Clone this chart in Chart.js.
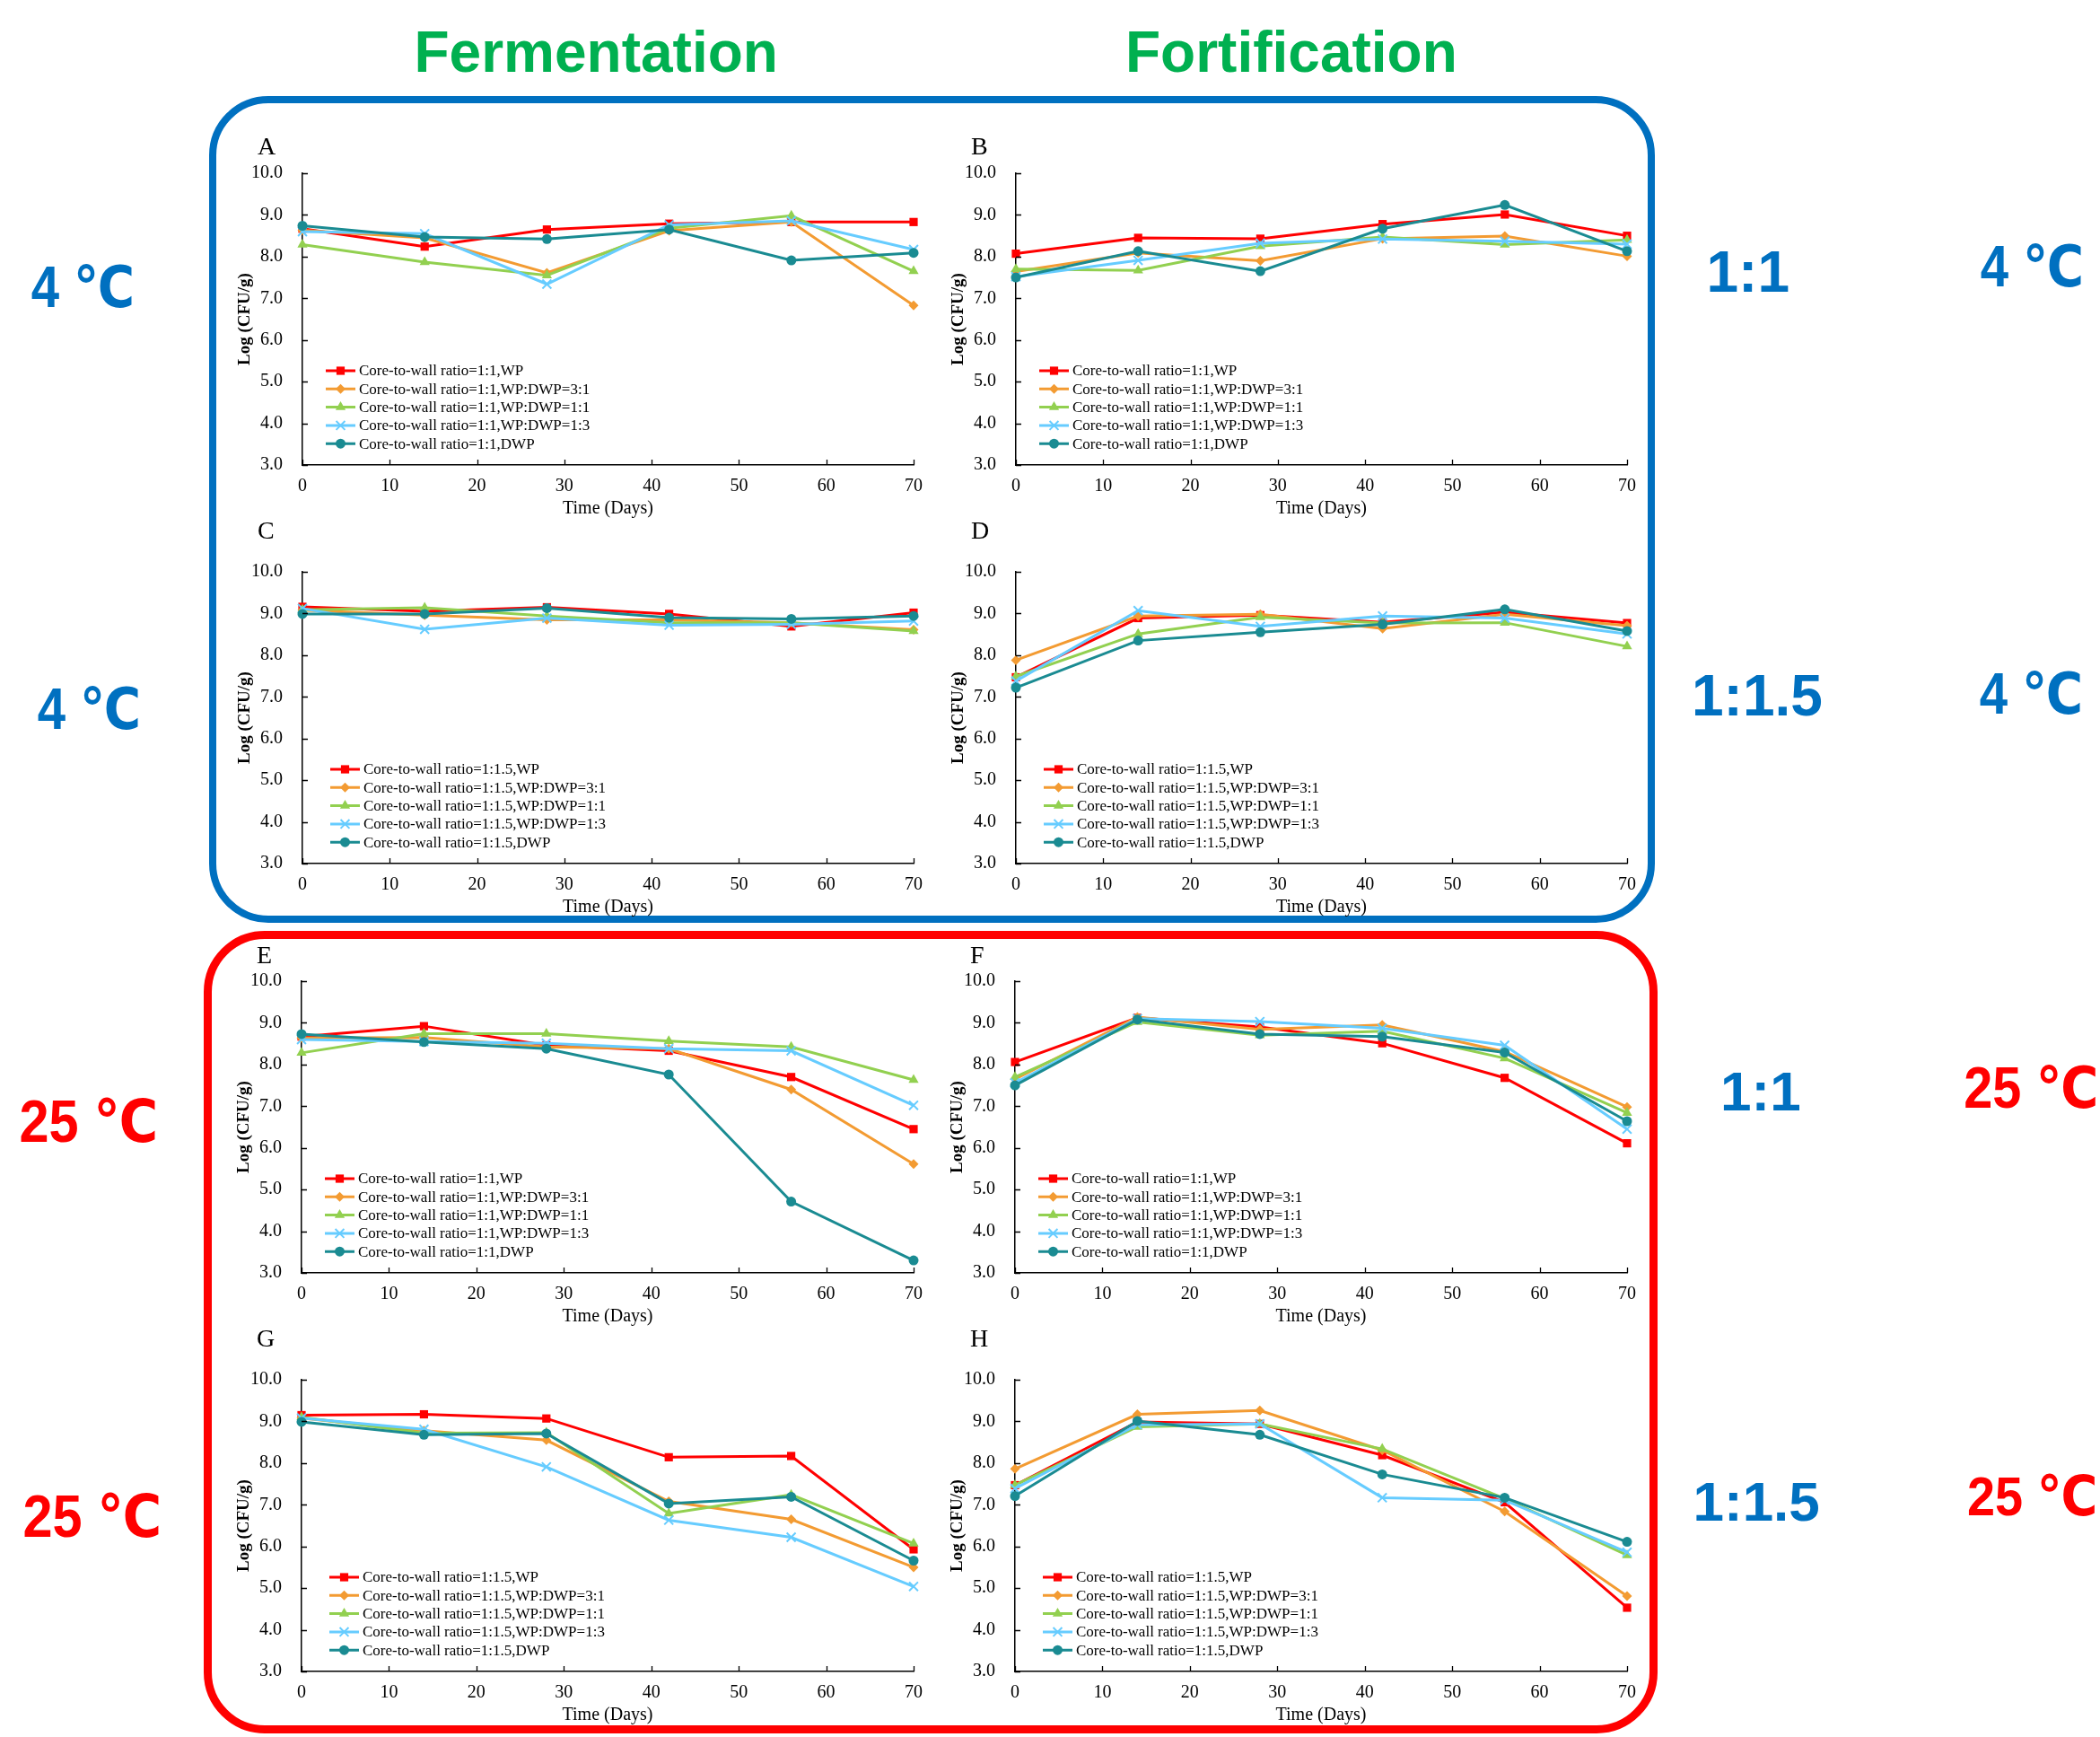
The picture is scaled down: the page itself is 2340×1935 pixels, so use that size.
<!DOCTYPE html>
<html>
<head>
<meta charset="utf-8">
<script src="https://cdn.jsdelivr.net/npm/chart.js@4.4.0/dist/chart.umd.min.js"></script>
<style>
html, body { margin: 0; padding: 0; background: #fff; }
body { width: 2340px; height: 1935px; position: relative; overflow: hidden; }
.frame { position: absolute; box-sizing: border-box; }
.note { position: absolute; white-space: nowrap; line-height: 1; font-weight: bold; transform-origin: 50% 100%; }
.letter { position: absolute; font-family: "Liberation Serif", "Times New Roman", serif; font-size: 28px; line-height: 1; color: #000; }
canvas { position: absolute; }
</style>
</head>
<body>
<div class="frame" style="left:233px;top:107px;width:1611px;height:921px;border:8px solid #0070C0;border-radius:66px;"></div>
<div class="frame" style="left:227px;top:1037px;width:1620px;height:894px;border:9px solid #FF0000;border-radius:68px;"></div>

<script>
// storage days
var days = [0, 14, 28, 42, 56, 70];
var groups = ['WP', 'WP:DWP=3:1', 'WP:DWP=1:1', 'WP:DWP=1:3', 'DWP'];
var colors = ['#FF0000', '#F39B32', '#92D050', '#66CCFF', '#1A8B92'];
var markers = ['rect', 'rectRot', 'triangle', 'crossRot', 'circle'];

// one row per group, values are Log (CFU/g)
var panelA = [
    [8.67, 8.24, 8.65, 8.79, 8.83, 8.83],
    [8.63, 8.45, 7.61, 8.62, 8.83, 6.83],
    [8.29, 7.87, 7.55, 8.68, 8.98, 7.65],
    [8.60, 8.55, 7.34, 8.76, 8.86, 8.17],
    [8.74, 8.47, 8.42, 8.65, 7.91, 8.09]
];
var panelB = [
    [8.07, 8.45, 8.43, 8.78, 9.01, 8.50],
    [7.64, 8.09, 7.90, 8.43, 8.49, 8.01],
    [7.70, 7.67, 8.25, 8.47, 8.29, 8.40],
    [7.52, 7.91, 8.32, 8.42, 8.37, 8.30],
    [7.50, 8.13, 7.65, 8.67, 9.24, 8.13]
];
var panelC = [
    [9.16, 9.05, 9.15, 8.99, 8.69, 9.02],
    [9.08, 8.96, 8.85, 8.85, 8.78, 8.61],
    [9.09, 9.14, 8.94, 8.78, 8.78, 8.58],
    [9.12, 8.62, 8.89, 8.72, 8.74, 8.82],
    [8.99, 8.99, 9.13, 8.90, 8.87, 8.94]
];
var panelD = [
    [7.47, 8.89, 8.96, 8.79, 9.03, 8.77],
    [7.88, 8.94, 8.98, 8.64, 8.98, 8.71],
    [7.49, 8.51, 8.91, 8.77, 8.78, 8.21],
    [7.38, 9.07, 8.69, 8.94, 8.89, 8.51],
    [7.22, 8.35, 8.55, 8.74, 9.10, 8.58]
];
var panelE = [
    [8.67, 8.92, 8.46, 8.33, 7.70, 6.45],
    [8.64, 8.65, 8.42, 8.38, 7.40, 5.61],
    [8.28, 8.74, 8.74, 8.56, 8.42, 7.63],
    [8.60, 8.55, 8.51, 8.38, 8.33, 7.02],
    [8.73, 8.54, 8.38, 7.76, 4.71, 3.30]
];
var panelF = [
    [8.06, 9.12, 8.90, 8.51, 7.68, 6.11],
    [7.65, 9.14, 8.84, 8.95, 8.31, 6.98],
    [7.70, 9.02, 8.70, 8.80, 8.15, 6.84],
    [7.56, 9.10, 9.03, 8.87, 8.46, 6.45],
    [7.50, 9.08, 8.73, 8.67, 8.29, 6.64]
];
var panelG = [
    [9.15, 9.17, 9.07, 8.14, 8.17, 5.93],
    [9.08, 8.78, 8.55, 7.08, 6.65, 5.50],
    [9.10, 8.72, 8.73, 6.79, 7.24, 6.07],
    [9.08, 8.81, 7.91, 6.63, 6.22, 5.04],
    [8.99, 8.68, 8.71, 7.03, 7.19, 5.66]
];
var panelH = [
    [7.47, 8.99, 8.94, 8.19, 7.06, 4.53],
    [7.86, 9.17, 9.26, 8.31, 6.84, 4.81],
    [7.47, 8.87, 8.94, 8.34, 7.15, 5.79],
    [7.39, 8.92, 8.94, 7.17, 7.11, 5.86],
    [7.21, 9.01, 8.68, 7.73, 7.17, 6.11]
];

// where each plot area sits on the page
var panels = [
    { name: 'A', data: panelA, ratio: '1:1',   L: 337,  R: 1018, T: 193,  B: 518,  legX: 26, letterY: 172 },
    { name: 'B', data: panelB, ratio: '1:1',   L: 1132, R: 1813, T: 193,  B: 518,  legX: 26, letterY: 172 },
    { name: 'C', data: panelC, ratio: '1:1.5', L: 337,  R: 1018, T: 637,  B: 962,  legX: 31, letterY: 600 },
    { name: 'D', data: panelD, ratio: '1:1.5', L: 1132, R: 1813, T: 637,  B: 962,  legX: 31, letterY: 600 },
    { name: 'E', data: panelE, ratio: '1:1',   L: 336,  R: 1018, T: 1093, B: 1418, legX: 26, letterY: 1073 },
    { name: 'F', data: panelF, ratio: '1:1',   L: 1131, R: 1813, T: 1093, B: 1418, legX: 26, letterY: 1073 },
    { name: 'G', data: panelG, ratio: '1:1.5', L: 336,  R: 1018, T: 1537, B: 1862, legX: 31, letterY: 1500 },
    { name: 'H', data: panelH, ratio: '1:1.5', L: 1131, R: 1813, T: 1537, B: 1862, legX: 31, letterY: 1500 }
];

var blue = '#0070C0', red = '#FF0000', green = '#00B050';
var notes = [
    { t: 'Fermentation', x: 664,  y: 80,   size: 64, color: green, sx: 1 },
    { t: 'Fortification', x: 1439, y: 80,  size: 64, color: green, sx: 1 },
    { t: '4 ℃',   x: 92,   y: 342,  size: 64, color: blue, sx: 0.88 },
    { t: '4 ℃',   x: 99,   y: 812,  size: 64, color: blue, sx: 0.88 },
    { t: '25 ℃',  x: 99,   y: 1272, size: 66, color: red,  sx: 0.9 },
    { t: '25 ℃',  x: 103,  y: 1712, size: 66, color: red,  sx: 0.9 },
    { t: '1:1',   x: 1948, y: 325,  size: 64, color: blue, sx: 1 },
    { t: '4 ℃',   x: 2264, y: 319,  size: 64, color: blue, sx: 0.88 },
    { t: '1:1.5', x: 1958, y: 797,  size: 64, color: blue, sx: 1 },
    { t: '4 ℃',   x: 2263, y: 795,  size: 64, color: blue, sx: 0.88 },
    { t: '1:1',   x: 1962, y: 1237, size: 62, color: blue, sx: 1 },
    { t: '25 ℃',  x: 2263, y: 1234, size: 64, color: red,  sx: 0.9 },
    { t: '1:1.5', x: 1957, y: 1694, size: 62, color: blue, sx: 1 },
    { t: '25 ℃',  x: 2264, y: 1688, size: 62, color: red,  sx: 0.9 }
];

var Y_AXIS_W = 75, X_AXIS_H = 61, PAD_TOP = 14, PAD_RIGHT = 25;
var serif = '"Liberation Serif", "Times New Roman", serif';
var radii = [6.5, 5.5, 6.5, 7, 5.5];

function marker(ctx, style, x, y, r, color) {
    ctx.save();
    ctx.fillStyle = color;
    ctx.strokeStyle = color;
    ctx.lineWidth = 2;
    ctx.beginPath();
    if (style === 'rect') {
        var s = r * Math.SQRT1_2;
        ctx.rect(x - s, y - s, 2 * s, 2 * s);
        ctx.fill();
    } else if (style === 'rectRot') {
        ctx.moveTo(x, y - r); ctx.lineTo(x + r, y); ctx.lineTo(x, y + r); ctx.lineTo(x - r, y);
        ctx.closePath(); ctx.fill();
    } else if (style === 'triangle') {
        ctx.moveTo(x, y - r);
        ctx.lineTo(x + r * 0.866, y + r * 0.5);
        ctx.lineTo(x - r * 0.866, y + r * 0.5);
        ctx.closePath(); ctx.fill();
    } else if (style === 'crossRot') {
        var c = r * 0.707;
        ctx.moveTo(x - c, y - c); ctx.lineTo(x + c, y + c);
        ctx.moveTo(x + c, y - c); ctx.lineTo(x - c, y + c);
        ctx.stroke();
    } else {
        ctx.arc(x, y, r, 0, Math.PI * 2);
        ctx.fill();
    }
    ctx.restore();
}

// inner tick marks, like the spreadsheet axes
var innerTicks = {
    id: 'innerTicks',
    afterDraw: function (chart) {
        var ctx = chart.ctx, a = chart.chartArea;
        var xs = chart.scales.x, ys = chart.scales.y;
        ctx.save();
        ctx.strokeStyle = '#000';
        ctx.lineWidth = 1.3;
        ctx.beginPath();
        ys.ticks.forEach(function (t) {
            var py = Math.round(ys.getPixelForValue(t.value)) + 0.5;
            ctx.moveTo(a.left, py); ctx.lineTo(a.left + 6, py);
        });
        xs.ticks.forEach(function (t) {
            var px = Math.round(xs.getPixelForValue(t.value)) + 0.5;
            ctx.moveTo(px, a.bottom); ctx.lineTo(px, a.bottom - 6);
        });
        ctx.stroke();
        ctx.restore();
    }
};

var innerLegend = {
    id: 'innerLegend',
    afterDraw: function (chart, args, opts) {
        var ctx = chart.ctx, a = chart.chartArea;
        ctx.save();
        ctx.font = '17px ' + serif;
        ctx.textBaseline = 'middle';
        chart.data.datasets.forEach(function (ds, i) {
            var y = a.bottom - 105 + i * 20.3;
            var x0 = a.left + opts.x, x1 = x0 + 33;
            ctx.strokeStyle = ds.borderColor;
            ctx.lineWidth = 3;
            ctx.beginPath();
            ctx.moveTo(x0, y); ctx.lineTo(x1, y);
            ctx.stroke();
            marker(ctx, ds.pointStyle, (x0 + x1) / 2, y, ds.pointRadius, ds.borderColor);
            ctx.fillStyle = '#000';
            ctx.fillText(ds.label, x1 + 4, y + 1);
        });
        ctx.restore();
    }
};

function makeConfig(p) {
    var datasets = p.data.map(function (vals, i) {
        return {
            label: 'Core-to-wall ratio=' + p.ratio + ',' + groups[i],
            data: days.map(function (d, k) { return { x: d, y: vals[k] }; }),
            borderColor: colors[i],
            backgroundColor: colors[i],
            pointBackgroundColor: colors[i],
            pointBorderColor: colors[i],
            borderWidth: 3,
            pointStyle: markers[i],
            pointRadius: radii[i],
            pointBorderWidth: markers[i] === 'crossRot' ? 2 : 0,
            tension: 0,
            clip: false,
            order: 4 - i
        };
    });
    return {
        type: 'line',
        data: { datasets: datasets },
        options: {
            responsive: false,
            maintainAspectRatio: false,
            animation: false,
            layout: { padding: { top: PAD_TOP, right: PAD_RIGHT, left: 0, bottom: 0 } },
            plugins: {
                legend: { display: false },
                tooltip: { enabled: false },
                innerLegend: { x: p.legX }
            },
            scales: {
                x: {
                    type: 'linear',
                    min: 0, max: 70,
                    grid: { display: false, drawTicks: false },
                    border: { display: true, color: '#000', width: 1.5 },
                    ticks: { stepSize: 10, padding: 12, color: '#000', font: { family: serif, size: 20 } },
                    title: { display: true, text: 'Time (Days)', color: '#000', padding: 0, font: { family: serif, size: 20 } },
                    afterFit: function (s) { s.height = X_AXIS_H; }
                },
                y: {
                    min: 3, max: 10,
                    grid: { display: false, drawTicks: false },
                    border: { display: true, color: '#000', width: 1.5 },
                    ticks: {
                        stepSize: 1, padding: 22, color: '#000', font: { family: serif, size: 20 },
                        callback: function (v) { return Number(v).toFixed(1); }
                    },
                    title: { display: true, text: 'Log (CFU/g)', color: '#000', padding: 0, font: { family: serif, size: 19, weight: 'bold' } },
                    afterFit: function (s) { s.width = Y_AXIS_W; }
                }
            }
        },
        plugins: [innerTicks, innerLegend]
    };
}

function build(p, w, h) {
    var canvas = document.createElement('canvas');
    canvas.width = w;
    canvas.height = h;
    document.body.appendChild(canvas);
    var chart = new Chart(canvas.getContext('2d'), makeConfig(p));
    return { canvas: canvas, chart: chart };
}

panels.forEach(function (p) {
    var w = p.R - p.L + Y_AXIS_W + PAD_RIGHT;
    var h = p.B - p.T + PAD_TOP + X_AXIS_H;
    var b = build(p, w, h);
    // grow the canvas until the plot area has the wanted size
    for (var k = 0; k < 3; k++) {
        var ca = b.chart.chartArea;
        var dw = Math.round((p.R - p.L) - (ca.right - ca.left));
        var dh = Math.round((p.B - p.T) - (ca.bottom - ca.top));
        if (dw === 0 && dh === 0) break;
        w += dw; h += dh;
        b.chart.destroy();
        b.canvas.remove();
        b = build(p, w, h);
    }
    var area = b.chart.chartArea;
    b.canvas.style.left = (p.L - area.left) + 'px';
    b.canvas.style.top = (p.T - area.top) + 'px';

    var letter = document.createElement('div');
    letter.className = 'letter';
    letter.textContent = p.name;
    letter.style.left = (p.L - 50) + 'px';
    letter.dataset.base = p.letterY;
    document.body.appendChild(letter);
});

notes.forEach(function (n) {
    var d = document.createElement('div');
    d.className = 'note';
    d.style.fontFamily = '"Liberation Sans", Arial, "DejaVu Sans", sans-serif';
    d.style.fontSize = n.size + 'px';
    d.style.color = n.color;
    d.textContent = n.t;
    d.dataset.base = n.y;
    d.dataset.cx = n.x;
    d.dataset.sx = n.sx;
    document.body.appendChild(d);
});

// put every text element on its baseline
document.querySelectorAll('.note, .letter').forEach(function (el) {
    var probe = document.createElement('span');
    probe.style.display = 'inline-block';
    probe.style.width = '0';
    probe.style.height = '0';
    probe.style.verticalAlign = 'baseline';
    el.appendChild(probe);
    el.style.top = '0px';
    var base = probe.offsetTop;
    el.style.top = (Number(el.dataset.base) - base) + 'px';
    if (el.dataset.cx) {
        el.style.left = (Number(el.dataset.cx) - el.offsetWidth / 2) + 'px';
        if (el.dataset.sx !== '1') el.style.transform = 'scaleX(' + el.dataset.sx + ')';
    }
});
</script>
</body>
</html>
